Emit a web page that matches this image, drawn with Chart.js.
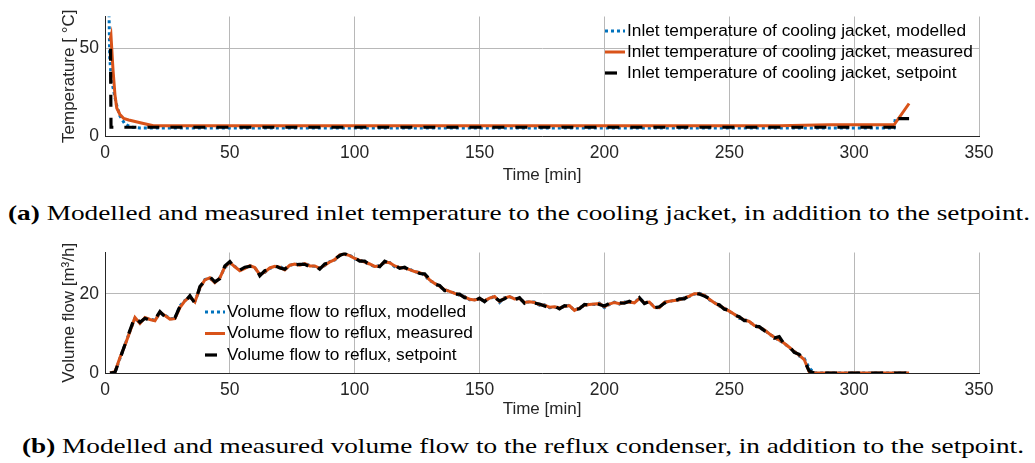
<!DOCTYPE html>
<html><head><meta charset="utf-8">
<script src="https://cdn.jsdelivr.net/npm/chart.js@4"></script>
<style>
body{margin:0;background:#fff;width:1035px;height:463px;overflow:hidden;position:relative}
.wrap{position:absolute;left:0;width:1035px}
.cap{position:absolute;white-space:nowrap;font-family:"Liberation Serif",serif;font-size:21px;color:#000;transform-origin:0 50%;line-height:1}
</style></head><body>
<div class="wrap" style="top:0;height:186px"><canvas id="c1" width="1035" height="186"></canvas></div>
<div class="cap" id="capA" style="left:8px;top:203px"><b>(a)</b> Modelled and measured inlet temperature to the cooling jacket, in addition to the setpoint.</div>
<div class="wrap" style="top:236px;height:184px"><canvas id="c2" width="1035" height="184"></canvas></div>
<div class="cap" id="capB" style="left:22px;top:436px"><b>(b)</b> Modelled and measured volume flow to the reflux condenser, in addition to the setpoint.</div>
<script>
// ---------- tick labels ----------
const timeTicks = [0, 50, 100, 150, 200, 250, 300, 350];
const tempTicks = [0, 50];
const flowTicks = [0, 20];

// ---------- (a) inlet temperature ----------
const tempTimeModelled = [1.5, 1.9, 2.5, 3.3, 4.6, 6.0, 8.0, 10.6, 14, 60, 150, 250, 316, 316.5, 320];
const tempModelled     = [80, 45, 33, 27, 18, 11.4, 6.8, 5.0, 4.6, 4.6, 4.6, 4.6, 4.6, 10, 10];
const tempTimeMeasured = [2, 2.4, 3.2, 4.0, 4.7, 6.0, 7.5, 9.5, 15.4, 19.4, 40, 100, 200, 270, 290, 316, 322];
const tempMeasured     = [55, 57.3, 38, 23.4, 16, 12.3, 10.0, 9.2, 7.2, 5.9, 5.9, 5.8, 5.8, 5.9, 6.4, 6.4, 18.6];
const tempTimeSetpoint = [2.2, 2.4, 316, 316.3, 322];
const tempSetpoint     = [50, 5, 5, 10, 10];

// ---------- (b) volume flow ----------
const flowTime = [2,4,6,8,10,12,14,16,18,20,22,24,26,28,30,32,34,36,38,40,42,44,46,48,50,52,54,56,58,60,
62,64,66,68,70,72,74,76,78,80,82,84,86,88,90,92,94,96,98,100,102,104,106,108,110,112,114,116,118,120,
122,124,126,128,130,132,134,136,138,140,142,144,146,148,150,152,154,156,158,160,162,164,166,168,170,172,174,176,178,180,
182,184,186,188,190,192,194,196,198,200,202,204,206,208,210,212,214,216,218,220,222,224,226,228,230,232,234,236,238,240,
242,244,246,248,250,252,254,256,258,260,262,264,266,268,270,272,274,276,278,280,282,284,300,322];
const flowMeasured = [0,0.3,3.9,7.0,10.5,14.0,12.5,14.0,13.5,13.2,
15.3,14.5,13.6,13.7,16.5,18.2,19.2,17.9,21.5,23.5,
24.0,22.8,24.0,26.8,27.9,26.8,25.8,26.4,27.1,26.6,
24.8,25.5,26.5,26.9,26.7,26.0,27.2,27.5,27.2,27.6,
27.0,27.0,26.4,27.2,28.0,28.6,29.8,30.0,29.6,28.9,
28.4,28.0,27.5,26.9,27.0,28.0,27.8,27.0,26.6,26.5,
26.1,25.6,25.3,24.8,23.5,22.6,21.9,21.0,20.6,20.1,
19.7,19.2,18.6,18.4,18.7,18.2,18.9,19.3,18.0,18.9,
19.3,18.7,18.8,17.8,18.0,17.8,17.2,17.1,16.6,16.7,
16.4,16.8,17.0,15.8,16.4,17.1,17.3,17.4,17.5,16.7,
17.4,17.8,17.5,17.8,17.9,17.7,18.8,17.7,17.9,16.6,
16.5,17.8,18.1,18.3,18.5,18.9,19.4,20.0,20.0,19.6,
18.6,17.7,17.0,16.3,15.6,14.8,14.0,13.4,13.0,12.0,
11.5,10.9,9.9,9.0,8.3,7.5,6.5,5.4,4.5,3.4,
0.3,0,0,0];
const flowSetpoint = [0,0.2,3.6,7.2,10.8,14.2,12.8,13.8,13.3,13.5,
15.5,14.2,13.8,13.9,16.8,18.0,19.5,17.6,21.8,23.3,
24.3,23.0,23.8,27.0,28.1,26.5,26.0,26.7,26.9,26.9,
24.5,25.8,26.3,27.1,26.5,26.2,27.4,27.3,27.4,27.4,
26.8,27.2,26.2,27.5,27.8,28.8,29.6,30.2,29.4,29.1,
28.2,28.2,27.3,27.1,26.8,28.2,27.6,27.2,26.4,26.7,
25.9,25.8,25.1,25.0,23.7,22.4,22.1,20.8,20.8,19.9,
19.9,19.0,18.8,18.2,18.9,18.0,19.1,19.1,18.2,18.7,
19.5,18.5,19.0,17.6,18.2,17.6,17.4,16.9,16.4,16.9,
16.2,17.0,16.8,16.0,16.2,17.3,17.1,17.6,17.3,16.9,
17.6,17.6,17.7,17.6,18.1,17.5,19.0,17.5,18.1,16.4,
16.7,17.6,18.3,18.1,18.7,18.7,19.6,20.1,19.9,19.4,
18.8,17.5,17.2,16.1,15.8,14.6,14.2,13.2,13.2,11.8,
11.7,10.7,10.1,8.8,9.2,7.3,6.7,5.2,4.7,3.2,
0.5,0,0,0];
const flowModelled = [0,0.1,3.7,7.1,10.6,13.8,12.6,13.9,13.6,13.3,
15.1,14.6,13.7,13.8,16.9,18.3,19.0,18.1,21.3,23.6,
23.9,22.9,24.1,26.6,27.7,26.9,25.9,26.5,27.0,26.5,
25.0,25.4,26.4,26.8,26.9,26.1,27.1,27.6,27.1,27.7,
27.1,26.9,26.5,27.1,28.1,28.5,29.7,29.9,29.7,28.8,
28.5,27.9,27.4,26.8,27.1,27.9,27.9,26.8,26.6,26.4,
26.2,25.5,25.4,24.6,23.3,22.7,21.7,21.1,20.5,20.2,
19.6,19.3,18.5,18.5,18.6,18.3,18.7,19.4,17.8,19.0,
19.2,18.8,18.7,17.9,17.9,17.9,17.1,17.2,16.5,16.6,
16.5,16.7,17.1,15.7,16.5,17.0,17.4,17.3,17.6,16.5,
17.3,17.9,17.4,17.9,17.8,17.8,18.9,17.8,17.8,16.7,
16.4,17.9,18.0,18.4,18.4,19.0,19.3,19.9,20.1,19.7,
18.5,17.8,16.9,16.4,15.5,14.9,13.8,13.6,12.8,12.2,
11.3,11.0,9.7,9.2,8.1,7.6,6.3,5.6,4.3,3.7,
1.3,0,0,0];

const BLUE = '#0072BD', ORANGE = '#D95319', BLACK = '#000000';
const FONT = '"Liberation Sans", Arial, sans-serif';
const GRID = '#b8b8b8';
const pts = (xs, ys) => xs.map((x, i) => ({x, y: ys[i]}));

const insideLegend = {
  id: 'insideLegend',
  afterDraw(chart, args, o) {
    const ctx = chart.ctx;
    ctx.save();
    chart.data.datasets.forEach((ds, i) => {
      const y = o.y + i * o.dy;
      ctx.strokeStyle = ds.borderColor;
      ctx.lineWidth = ds.borderWidth;
      ctx.setLineDash(ds.borderDash || []);
      ctx.lineCap = 'butt';
      ctx.beginPath(); ctx.moveTo(o.x, y); ctx.lineTo(o.x + o.len, y); ctx.stroke();
      ctx.setLineDash([]);
      ctx.fillStyle = '#000';
      ctx.font = '17.3px ' + FONT;
      ctx.textBaseline = 'middle';
      ctx.textAlign = 'left';
      ctx.fillText(ds.label, o.x + o.len + 2, y);
    });
    ctx.restore();
  }
};

function makeDatasets(labels, series) {
  return [
    {label: labels[0], data: series[0], borderColor: BLUE, borderWidth: 3, borderDash: [3, 3], order: 2},
    {label: labels[1], data: series[1], borderColor: ORANGE, borderWidth: 3, order: 1},
    {label: labels[2], data: series[2], borderColor: BLACK, borderWidth: 3.2, borderDash: [12, 11], order: 0}
  ];
}

function makeChart(id, datasets, yMax, yTicks, yTitle, xHeight, legendPos) {
  return new Chart(document.getElementById(id), {
    type: 'line',
    data: {datasets},
    plugins: [insideLegend],
    options: {
      responsive: false, animation: false,
      layout: {padding: {left: 0, right: 56, top: 12, bottom: 0}},
      elements: {point: {radius: 0}, line: {tension: 0, fill: false}},
      plugins: {legend: {display: false}, tooltip: {enabled: false}, insideLegend: legendPos},
      scales: {
        x: {
          type: 'linear', min: 0, max: 350,
          afterBuildTicks: s => { s.ticks = timeTicks.map(v => ({value: v})); },
          afterFit: s => { s.height = xHeight; },
          grid: {color: GRID, lineWidth: 1, drawTicks: false},
          border: {color: '#262626', width: 1},
          ticks: {padding: 7, color: '#262626', font: {family: FONT, size: 17.5}, maxRotation: 0},
          title: {display: true, text: 'Time [min]', color: '#262626', font: {family: FONT, size: 17}, padding: {top: 0, bottom: 0}}
        },
        y: {
          type: 'linear', min: 0, max: yMax,
          afterBuildTicks: s => { s.ticks = yTicks.map(v => ({value: v})); },
          afterFit: s => { s.width = 105; },
          grid: {color: GRID, lineWidth: 1, drawTicks: false},
          border: {color: '#262626', width: 1},
          ticks: {padding: 6, color: '#262626', font: {family: FONT, size: 17.5}},
          title: {display: true, text: yTitle, color: '#262626', font: {family: FONT, size: 17}, padding: {top: 59, bottom: 0}}
        }
      }
    }
  });
}

makeChart('c1',
  makeDatasets(['Inlet temperature of cooling jacket, modelled', 'Inlet temperature of cooling jacket, measured', 'Inlet temperature of cooling jacket, setpoint'],
    [pts(tempTimeModelled, tempModelled), pts(tempTimeMeasured, tempMeasured), pts(tempTimeSetpoint, tempSetpoint)]),
  68.4, tempTicks, 'Temperature [ °C]', 50, {x: 605, y: 31, dy: 21, len: 20});

makeChart('c2',
  makeDatasets(['Volume flow to reflux, modelled', 'Volume flow to reflux, measured', 'Volume flow to reflux, setpoint'],
    [pts(flowTime, flowModelled), pts(flowTime, flowMeasured), pts(flowTime, flowSetpoint)]),
  30.4, flowTicks, 'Volume flow [m³/h]', 47, {x: 205, y: 76, dy: 21.5, len: 20});

function fit(id, left, right) {
  const el = document.getElementById(id);
  const w = el.getBoundingClientRect().width;
  el.style.transform = 'scaleX(' + ((right - left) / w) + ')';
}
fit('capA', 8, 1030);
fit('capB', 22, 1024);
</script>
</body></html>
